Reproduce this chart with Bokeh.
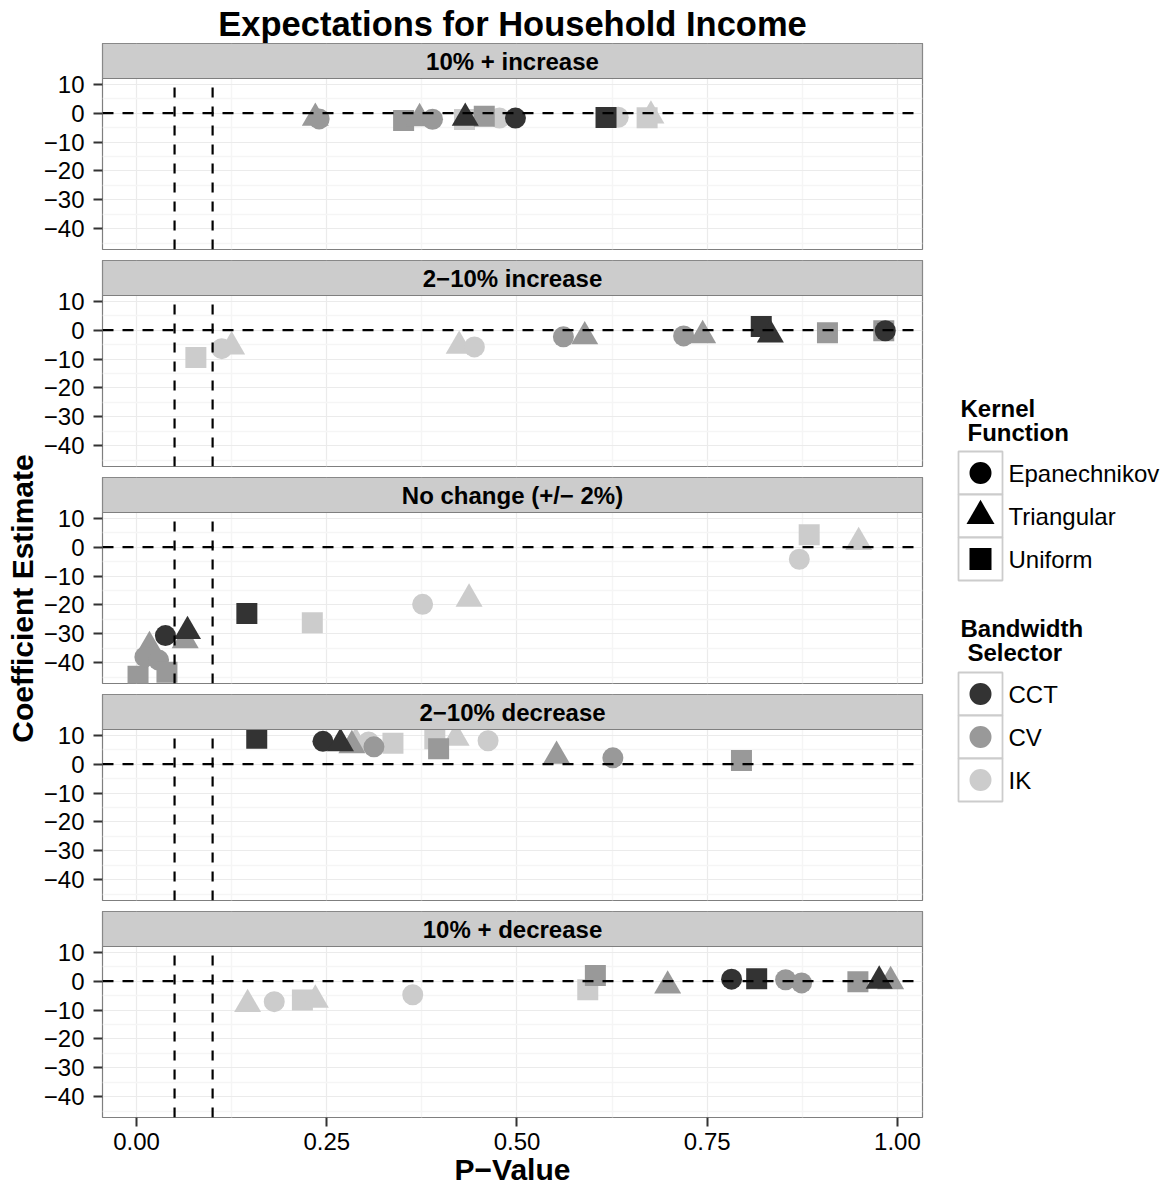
import math
from bokeh.plotting import figure
from bokeh.models import Range1d, FixedTicker, ColumnDataSource, Span
from bokeh.layouts import row, column
from bokeh.embed import file_html
from bokeh.resources import INLINE
from bokeh.core.properties import value

FONT = "Liberation Sans"

# ---------------- data ----------------
chart_title = "Expectations for Household Income"
x_title = "P\u2212Value"
y_title = "Coefficient Estimate"
facet_labels = ["10% + increase", "2\u221210% increase", "No change (+/\u2212 2%)",
                "2\u221210% decrease", "10% + decrease"]
kernel_names = ["Epanechnikov", "Triangular", "Uniform"]
bandwidth_names = ["CCT", "CV", "IK"]
x_ticks = [0.0, 0.25, 0.5, 0.75, 1.0]
x_tick_labels = ["0.00", "0.25", "0.50", "0.75", "1.00"]
y_ticks = [10, 0, -10, -20, -30, -40]
y_tick_labels = ["10", "0", "\u221210", "\u221220", "\u221230", "\u221240"]
p_thresholds = [0.05, 0.10]

# facet 1: 10% + increase
inc10_pval = [0.431, 0.477, 0.633, 0.671, 0.676,
              0.235, 0.240, 0.351, 0.372, 0.389, 0.457,
              0.432, 0.498, 0.617]
inc10_coef = [-2.2, -1.7, -1.4, -1.6, -0.9,
              -1.7, -2.0, -2.5, -1.8, -2.1, -1.1,
              -1.7, -1.7, -1.5]
inc10_kern = ["U", "E", "E", "U", "T",
              "T", "E", "U", "T", "E", "U",
              "T", "E", "U"]
inc10_bw = ["IK", "IK", "IK", "IK", "IK",
            "CV", "CV", "CV", "CV", "CV", "CV",
            "CCT", "CCT", "CCT"]

# facet 2: 2-10% increase
inc2_pval = [0.078, 0.112, 0.125, 0.424, 0.444,
             0.561, 0.589, 0.719, 0.744, 0.908, 0.982,
             0.821, 0.833, 0.984]
inc2_coef = [-9.5, -6.4, -5.7, -5.5, -5.8,
             -2.3, -2.2, -2.0, -1.8, -0.9, -0.2,
             1.3, -1.6, -0.2]
inc2_kern = ["U", "E", "T", "T", "E",
             "E", "T", "E", "T", "U", "U",
             "U", "T", "E"]
inc2_bw = ["IK", "IK", "IK", "IK", "IK",
           "CV", "CV", "CV", "CV", "CV", "CV",
           "CCT", "CCT", "CCT"]

# facet 3: no change
none_pval = [0.231, 0.376, 0.437, 0.871, 0.884, 0.949,
             0.002, 0.017, 0.011, 0.029, 0.040, 0.064,
             0.038, 0.067, 0.145]
none_coef = [-26.2, -19.8, -17.9, -4.2, 4.3, 1.7,
             -44.7, -34.3, -38.0, -39.1, -43.3, -32.3,
             -30.6, -29.1, -23.0]
none_kern = ["U", "E", "T", "E", "U", "T",
             "U", "T", "E", "E", "U", "T",
             "E", "T", "U"]
none_bw = ["IK", "IK", "IK", "IK", "IK", "IK",
           "CV", "CV", "CV", "CV", "CV", "CV",
           "CCT", "CCT", "CCT"]

# facet 4: 2-10% decrease
dec2_pval = [0.288, 0.305, 0.337, 0.392, 0.420, 0.462,
             0.283, 0.312, 0.397, 0.552, 0.626, 0.795,
             0.158, 0.245, 0.268]
dec2_coef = [7.5, 7.7, 7.2, 8.8, 9.1, 8.1,
             6.5, 6.0, 5.3, 2.8, 2.2, 1.3,
             9.0, 7.9, 7.2]
dec2_kern = ["T", "E", "U", "U", "T", "E",
             "T", "E", "U", "T", "E", "U",
             "U", "E", "T"]
dec2_bw = ["IK", "IK", "IK", "IK", "IK", "IK",
           "CV", "CV", "CV", "CV", "CV", "CV",
           "CCT", "CCT", "CCT"]

# facet 5: 10% + decrease
dec10_pval = [0.146, 0.181, 0.218, 0.235, 0.363, 0.593,
              0.603, 0.698, 0.853, 0.874, 0.948, 0.991,
              0.782, 0.815, 0.976]
dec10_coef = [-8.0, -7.1, -6.5, -6.5, -4.7, -3.0,
              2.0, -1.6, 0.5, -0.6, -0.2, -0.1,
              0.7, 0.8, 0.1]
dec10_kern = ["T", "E", "U", "T", "E", "U",
              "U", "T", "E", "E", "U", "T",
              "E", "U", "T"]
dec10_bw = ["IK", "IK", "IK", "IK", "IK", "IK",
            "CV", "CV", "CV", "CV", "CV", "CV",
            "CCT", "CCT", "CCT"]

facet_data = [
    (inc10_pval, inc10_coef, inc10_kern, inc10_bw),
    (inc2_pval, inc2_coef, inc2_kern, inc2_bw),
    (none_pval, none_coef, none_kern, none_bw),
    (dec2_pval, dec2_coef, dec2_kern, dec2_bw),
    (dec10_pval, dec10_coef, dec10_kern, dec10_bw),
]

# ---------------- styles ----------------
KERNEL_CODE = {"E": "Epanechnikov", "T": "Triangular", "U": "Uniform"}
MARKER = {"Epanechnikov": "circle", "Triangular": "triangle", "Uniform": "square"}
MSIZE = {"circle": 21, "triangle": 27, "square": 21}
BWCOL = {"CCT": "#333333", "CV": "#999999", "IK": "#CCCCCC"}

FRAME_W = 820
PANEL_H = 171
STRIP_H = 35
GAP = 11
LEFT_B = 62
RIGHT_B = 7
TITLE_H = 43
LAST_B = 68
YLAB_W = 40
TOTAL_W = 1167
LEG_W = TOTAL_W - YLAB_W - LEFT_B - FRAME_W - RIGHT_B
TOTAL_H = TITLE_H + 5 * (STRIP_H + PANEL_H) + 4 * GAP + LAST_B

X_LO, X_HI = -0.0447, 1.0329
Y_LO, Y_HI = -47.2, 12.0
STRIP_UNITS = STRIP_H * (Y_HI - Y_LO) / PANEL_H

xr = Range1d(X_LO, X_HI)


def base_fig(**kw):
    return figure(output_backend="svg", toolbar_location=None, **kw)


children = []

# title (same frame geometry as the panels, so it centres over them)
tf = base_fig(frame_width=FRAME_W, frame_height=TITLE_H,
              x_range=Range1d(0, 1), y_range=Range1d(TITLE_H, 0),
              x_axis_location=None, y_axis_location=None,
              min_border_left=LEFT_B, min_border_right=RIGHT_B,
              min_border_top=0, min_border_bottom=0)
tf.grid.visible = False
tf.outline_line_color = None
tf.text(x=[0.5], y=[23], text=[chart_title],
        text_align="center", text_baseline="middle", text_font=value(FONT),
        text_font_style="bold", text_font_size="34.5px", text_color="black")
children.append(tf)

for i, (lab, (pv, cf, kn, bw)) in enumerate(zip(facet_labels, facet_data)):
    last = (i == len(facet_labels) - 1)
    p = base_fig(frame_width=FRAME_W, frame_height=PANEL_H + STRIP_H, x_range=xr,
                 y_range=Range1d(Y_LO, Y_HI + STRIP_UNITS),
                 min_border_left=LEFT_B, min_border_right=RIGHT_B, min_border_top=0,
                 min_border_bottom=(LAST_B if last else GAP))
    p.outline_line_color = "#7F7F7F"
    p.outline_line_width = 1.2
    p.background_fill_color = "white"

    p.xaxis.ticker = FixedTicker(ticks=x_ticks, minor_ticks=[0.125, 0.375, 0.625, 0.875])
    p.yaxis.ticker = FixedTicker(ticks=y_ticks, minor_ticks=[5, -5, -15, -25, -35, -45])
    p.xaxis.major_label_overrides = {t: s for t, s in zip(x_ticks, x_tick_labels)}
    p.yaxis.major_label_overrides = {t: s for t, s in zip(y_ticks, y_tick_labels)}
    for ax in (p.xaxis, p.yaxis):
        ax.axis_line_color = None
        ax.major_tick_line_color = "#333333"
        ax.major_tick_line_width = 2
        ax.major_tick_out = 9
        ax.major_tick_in = 0
        ax.minor_tick_line_color = None
        ax.major_label_text_font = FONT
        ax.major_label_text_font_size = "24px"
        ax.major_label_text_color = "black"
    p.yaxis.major_label_standoff = 9
    p.xaxis.major_label_standoff = 6
    if last:
        p.xaxis.axis_label = x_title
        p.xaxis.axis_label_text_font = FONT
        p.xaxis.axis_label_text_font_size = "30px"
        p.xaxis.axis_label_text_font_style = "bold"
        p.xaxis.axis_label_text_color = "black"
        p.xaxis.axis_label_standoff = 0
    else:
        p.xaxis.visible = False

    p.grid.grid_line_color = "#EBEBEB"
    p.grid.grid_line_width = 1.2
    p.grid.minor_grid_line_color = "#F5F5F5"
    p.grid.minor_grid_line_width = 1.5

    kern_full = [KERNEL_CODE[k] for k in kn]
    marks = [MARKER[k] for k in kern_full]
    src = ColumnDataSource(dict(
        p=pv, coef=cf, kernel=kern_full, bw=bw,
        marker=marks, size=[MSIZE[m] for m in marks], color=[BWCOL[b] for b in bw],
    ))
    p.scatter(x="p", y="coef", marker="marker", size="size", fill_color="color",
              line_color=None, source=src)

    # reference lines (drawn over the points)
    p.add_layout(Span(location=0, dimension="width", line_color="black",
                      line_dash="11 9", line_width=2.2))
    p.segment(x0=p_thresholds, y0=[Y_LO] * len(p_thresholds),
              x1=p_thresholds, y1=[Y_HI] * len(p_thresholds),
              line_color="black", line_dash="10 9", line_width=2.2)

    # facet strip
    p.quad(left=[X_LO], right=[X_HI], bottom=[Y_HI], top=[Y_HI + STRIP_UNITS],
           fill_color="#CCCCCC", line_color="#7F7F7F", line_width=1.2)
    p.text(x=[(X_LO + X_HI) / 2], y=[Y_HI + STRIP_UNITS * 0.5], text=[lab],
           text_align="center", text_baseline="middle",
           text_font=value(FONT), text_font_style="bold", text_font_size="24px",
           text_color="black")
    children.append(p)

col = column(*children, spacing=0)

# y label figure
yf = base_fig(frame_width=YLAB_W, frame_height=TOTAL_H,
              x_range=Range1d(0, YLAB_W), y_range=Range1d(TOTAL_H, 0),
              x_axis_location=None, y_axis_location=None,
              min_border_left=0, min_border_right=0, min_border_top=0, min_border_bottom=0)
yf.grid.visible = False
yf.outline_line_color = None
yf.text(x=[22], y=[598], text=[y_title], angle=math.pi / 2,
        text_align="center", text_baseline="middle", text_font=value(FONT),
        text_font_style="bold", text_font_size="30px", text_color="black")

# legend figure (page coordinates)
LX0 = YLAB_W + LEFT_B + FRAME_W + RIGHT_B
lf = base_fig(frame_width=LEG_W, frame_height=TOTAL_H,
              x_range=Range1d(LX0, LX0 + LEG_W), y_range=Range1d(TOTAL_H, 0),
              x_axis_location=None, y_axis_location=None,
              min_border_left=0, min_border_right=0, min_border_top=0, min_border_bottom=0)
lf.grid.visible = False
lf.outline_line_color = None

KEY_X = 980
KEY_W = 44
KEY_H = 43
LAB_X = 1008


def legend_block(title1, title2, y_title1, y_keys0, names, markers, colors):
    lf.text(x=[960], y=[y_title1], text=[title1], text_align="left", text_baseline="middle",
            text_font=value(FONT), text_font_style="bold", text_font_size="24px",
            text_color="black")
    lf.text(x=[967], y=[y_title1 + 24], text=[title2], text_align="left",
            text_baseline="middle", text_font=value(FONT), text_font_style="bold",
            text_font_size="24px", text_color="black")
    ys = [y_keys0 + KEY_H * (j + 0.5) for j in range(len(names))]
    lf.rect(x=[KEY_X] * len(names), y=ys, width=KEY_W, height=KEY_H,
            fill_color="white", line_color="#CCCCCC", line_width=1.8)
    lf.scatter(x=[KEY_X] * len(names), y=ys, marker=markers,
               size=[MSIZE[m] + 1 for m in markers], fill_color=colors, line_color=None)
    lf.text(x=[LAB_X] * len(names), y=ys, text=names, text_align="left",
            text_baseline="middle", text_font=value(FONT), text_font_size="24px",
            text_color="black")


legend_block("Kernel", "Function", 408, 451, kernel_names,
             [MARKER[k] for k in kernel_names], ["black"] * len(kernel_names))
legend_block("Bandwidth", "Selector", 628, 672, bandwidth_names,
             ["circle"] * len(bandwidth_names), [BWCOL[b] for b in bandwidth_names])

layout = row(yf, col, lf, spacing=0)

open("out.html", "w").write(file_html(layout, INLINE))
